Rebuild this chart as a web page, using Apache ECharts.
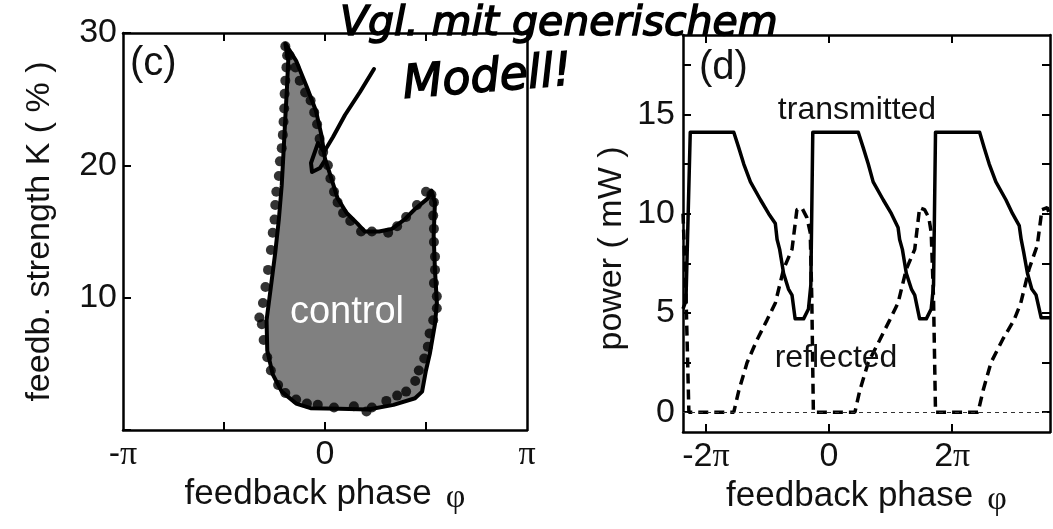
<!DOCTYPE html>
<html>
<head>
<meta charset="utf-8">
<script src="https://cdn.jsdelivr.net/npm/echarts@6/dist/echarts.min.js"></script>
<style>
  html, body { margin: 0; padding: 0; background: #fff; }
  #chart { width: 1053px; height: 529px; }
</style>
</head>
<body>
<div id="chart"></div>
<script>
const PI = Math.PI;

// (c) boundary of the control region: feedback phase (rad) vs feedback strength K (%)
const controlEdgePhase = [-0.617, -0.449, -0.281, -0.140, -0.056, 0.000, 0.084, 0.196, 0.337, 0.505, 0.617, 0.842, 1.040, 1.234, 1.400, 1.600, 1.655, 1.710, 1.690, 1.710, 1.740, 1.710, 1.630, 1.570, 1.510, 1.400, 1.066, 0.673, 0.224, -0.224, -0.449, -0.673, -0.813, -0.898, -0.909, -0.842, -0.774, -0.718, -0.673, -0.645, -0.617, -0.589, -0.572];
const controlEdgeK = [29.2, 27.9, 25.9, 24.1, 22.3, 20.5, 19.25, 17.5, 16.4, 15.6, 15.0, 15.0, 15.2, 15.9, 16.7, 17.5, 18.1, 17.2, 14.7, 12.1, 9.6, 8.0, 5.75, 4.5, 2.9, 2.4, 1.9, 1.55, 1.6, 1.65, 2.0, 2.9, 4.2, 6.0, 8.3, 10.8, 13.4, 15.9, 18.5, 21.0, 23.6, 26.1, 27.9];

// (c) measured points on the boundary
const controlDotPhase = [-0.617, -0.550, -0.460, -0.393, -0.309, -0.224, -0.168, -0.123, -0.084, -0.028, 0.045, 0.084, 0.140, 0.196, 0.281, 0.393, 0.561, 0.729, 0.982, 1.122, 1.262, 1.430, 1.571, 1.655, 1.694, 1.683, 1.694, 1.694, 1.711, 1.711, 1.694, 1.739, 1.739, 1.683, 1.627, 1.599, 1.543, 1.459, 1.403, 1.262, 1.122, 0.954, 0.729, 0.645, 0.449, 0.140, -0.112, -0.281, -0.449, -0.617, -0.729, -0.842, -0.898, -0.954, -0.982, -1.021, -0.965, -0.926, -0.886, -0.842, -0.813, -0.785, -0.774, -0.757, -0.718, -0.701, -0.673, -0.656, -0.645, -0.634, -0.628, -0.617, -0.600, -0.589];
const controlDotK = [29.0, 28.3, 27.4, 26.4, 25.5, 24.9, 24.0, 23.1, 22.0, 21.0, 20.0, 19.0, 18.0, 17.2, 16.4, 15.8, 15.0, 15.0, 14.9, 15.4, 16.1, 17.0, 18.0, 17.8, 17.2, 16.2, 15.2, 14.2, 13.1, 12.1, 11.1, 10.1, 9.2, 8.3, 7.3, 6.3, 5.4, 4.5, 3.7, 2.9, 2.6, 2.2, 1.7, 1.4, 1.8, 1.7, 1.9, 2.0, 2.3, 2.8, 3.4, 4.5, 5.5, 6.8, 8.0, 8.5, 9.6, 10.8, 12.1, 13.6, 14.9, 15.9, 17.0, 18.0, 19.2, 20.3, 21.3, 22.3, 23.3, 24.3, 25.4, 26.4, 27.4, 28.3];

// (d) transmitted power (mW) vs feedback phase (rad)
const transPhase = [-7.45, -7.30, -7.08, -4.86, -4.60, -4.35, -4.01, -3.50, -3.08, -2.74, -2.65, -2.52, -2.32, -2.07, -1.89, -1.73, -1.30, -1.05, -0.93, -0.83,
  1.49, 1.75, 2.00, 2.25, 2.76, 3.18, 3.52, 3.60, 3.74, 3.94, 4.20, 4.37, 4.62, 4.96, 5.21, 5.33, 5.43,
  7.68, 7.92, 8.17, 8.51, 9.02, 9.36, 9.70, 9.80, 9.92, 10.12, 10.34, 10.56, 10.82, 11.27];
const transPower = [5.2, 5.6, 14.1, 14.1, 13.3, 12.5, 11.6, 10.7, 10.0, 9.5, 8.7, 8.2, 7.0, 6.2, 5.9, 4.7, 4.7, 5.2, 6.4, 14.1,
  14.1, 13.3, 12.5, 11.6, 10.7, 10.0, 9.3, 8.7, 8.2, 7.0, 6.2, 5.9, 4.7, 4.7, 5.2, 6.4, 14.1,
  14.1, 13.3, 12.5, 11.6, 10.7, 10.0, 9.4, 8.7, 8.1, 7.0, 6.2, 5.9, 4.75, 4.75];

// (d) reflected power (mW) vs feedback phase (rad)
const reflPhase = [-7.45, -7.30, -7.15, -4.86, -4.60, -4.18, -3.67, -3.16, -2.74, -2.32, -1.89, -1.64, -1.39, -1.13, -0.96, -0.88, -0.80,
  1.32, 1.57, 2.00, 2.59, 3.10, 3.52, 3.94, 4.37, 4.62, 4.87, 5.09, 5.21, 5.33, 5.43,
  7.60, 7.86, 8.26, 8.85, 9.44, 9.78, 10.20, 10.62, 10.86, 11.13, 11.27];
const reflPower = [10.0, 6.0, 0, 0, 1.1, 2.5, 3.65, 4.65, 5.5, 7.2, 8.2, 10.2, 10.3, 9.8, 9.05, 5.7, 0,
  0, 1.1, 2.5, 3.65, 4.65, 5.5, 7.2, 8.2, 10.3, 10.2, 9.8, 9.05, 5.7, 0,
  0, 1.1, 2.5, 3.65, 4.65, 5.5, 7.2, 8.4, 10.2, 10.3, 9.9];

// axis ticks and tick labels
const phaseTicksC = [-PI / 2, 0, PI / 2];
const phaseLabelsC = [-PI, 0, PI];
const phaseTicksD = [-2 * PI, 0, 2 * PI];
const phaseLabelsD = [-2 * PI, 0, 2 * PI];
const kLabels = [0, 10, 20, 30];
const powerTicks = [0, 2.5, 5, 7.5, 10, 12.5, 15, 17.5];
const powerLabels = [0, 5, 10, 15];

const zip = (xs, ys) => xs.map((x, i) => [x, ys[i]]);

const SANS = '"Liberation Sans", Arial, Helvetica, sans-serif';
const SERIF = '"Liberation Serif", "Times New Roman", serif';
const INK = '#111';
const TICK_FONT = 34;
const NAME_FONT = 34;

const piRich = {
  s: { fontFamily: SANS, fontSize: TICK_FONT, color: INK },
  p: { fontFamily: SERIF, fontSize: TICK_FONT, color: INK }
};
const nameRich = {
  n: { fontFamily: SANS, fontSize: 35, color: INK },
  g: { fontFamily: SERIF, fontSize: 34, color: INK, padding: [8, 0, 0, 14] }
};

function piLabel(v) {
  const k = Math.round(v / PI);
  if (k === 0) return '{s|0}';
  if (k === 1) return '{p|π}';
  if (k === -1) return '{s|-}{p|π}';
  return '{s|' + k + '}{p|π}';
}

const frame = { show: true, onZero: false, lineStyle: { color: '#000', width: 2.5 } };
const tickStyle = { color: '#000', width: 2 };

function phaseAxis(grid, min, max, ticks, labels, top) {
  return {
    type: 'value', gridIndex: grid, min: min, max: max, position: top ? 'top' : 'bottom',
    axisLine: frame,
    axisTick: { show: true, inside: true, length: 8, customValues: ticks, lineStyle: tickStyle },
    axisLabel: top ? { show: false } : {
      show: true, customValues: labels, formatter: piLabel, rich: piRich, margin: 8,
      showMinLabel: true, showMaxLabel: true, hideOverlap: false
    },
    splitLine: { show: false },
    name: top ? '' : '{n|feedback phase}{g|φ}',
    nameLocation: 'middle', nameGap: 40,
    nameTextStyle: { rich: nameRich }
  };
}

const chart = echarts.init(document.getElementById('chart'), null, { renderer: 'canvas' });

const option = {
  animation: false,
  backgroundColor: '#fff',
  grid: [
    { left: 123, top: 33, width: 404, height: 397, containLabel: false, outerBoundsMode: 'none' },
    { left: 683, top: 35, width: 367, height: 397, containLabel: false, outerBoundsMode: 'none' }
  ],
  xAxis: [
    phaseAxis(0, -PI, PI, phaseTicksC, phaseLabelsC, false),
    phaseAxis(0, -PI, PI, phaseTicksC, phaseLabelsC, true),
    phaseAxis(1, -7.45, 11.27, phaseTicksD, phaseLabelsD, false),
    phaseAxis(1, -7.45, 11.27, phaseTicksD, phaseLabelsD, true)
  ],
  yAxis: [
    {
      type: 'value', gridIndex: 0, min: 0, max: 30, position: 'left',
      axisLine: frame,
      axisTick: { show: true, inside: true, length: 8, customValues: kLabels, lineStyle: tickStyle },
      axisLabel: { customValues: kLabels, formatter: v => (v === 0 ? '' : String(v)), fontFamily: SANS, fontSize: TICK_FONT, color: INK, margin: 6, showMaxLabel: true },
      splitLine: { show: false },
      name: 'feedb. strength K ( % )', nameLocation: 'middle', nameGap: 66,
      nameTextStyle: { fontFamily: SANS, fontSize: NAME_FONT, color: INK }
    },
    {
      type: 'value', gridIndex: 0, min: 0, max: 30, position: 'right',
      axisLine: frame, axisTick: { show: false }, axisLabel: { show: false }, splitLine: { show: false }
    },
    {
      type: 'value', gridIndex: 1, min: -1, max: 19, position: 'left',
      axisLine: frame,
      axisTick: { show: true, inside: true, length: 8, customValues: powerTicks, lineStyle: tickStyle },
      axisLabel: { customValues: powerLabels, fontFamily: SANS, fontSize: TICK_FONT, color: INK, margin: 8 },
      splitLine: { show: false },
      name: 'power ( mW )', nameLocation: 'middle', nameGap: 54,
      nameTextStyle: { fontFamily: SANS, fontSize: NAME_FONT, color: INK, padding: [0, 30, 0, 0] }
    },
    {
      type: 'value', gridIndex: 1, min: -1, max: 19, position: 'right',
      axisLine: frame,
      axisTick: { show: true, inside: true, length: 8, customValues: powerTicks, lineStyle: tickStyle },
      axisLabel: { show: false }, splitLine: { show: false }
    }
  ],
  series: [
    {
      // shaded control region with its outline
      type: 'custom', name: 'control', xAxisIndex: 0, yAxisIndex: 0,
      data: [[0, 0]], silent: true, z: 2,
      renderItem: (params, api) => ({
        type: 'polygon',
        shape: { points: zip(controlEdgePhase, controlEdgeK).map(p => api.coord(p)) },
        style: { fill: '#808080', stroke: '#000', lineWidth: 4, lineJoin: 'round' }
      })
    },
    {
      type: 'scatter', name: 'measured', xAxisIndex: 0, yAxisIndex: 0,
      data: zip(controlDotPhase, controlDotK),
      symbol: 'circle', symbolSize: 10, itemStyle: { color: '#000' }, silent: true, z: 3
    },
    {
      type: 'line', name: 'transmitted', xAxisIndex: 2, yAxisIndex: 2,
      data: zip(transPhase, transPower), showSymbol: false, symbol: 'none',
      lineStyle: { color: '#000', width: 3.5, join: 'round' }, silent: true, z: 3
    },
    {
      type: 'line', name: 'reflected', xAxisIndex: 2, yAxisIndex: 2,
      data: zip(reflPhase, reflPower), showSymbol: false, symbol: 'none',
      lineStyle: { color: '#000', width: 3.5, type: [10, 6] }, silent: true, z: 3,
      markLine: {
        silent: true, symbol: ['none', 'none'], label: { show: false },
        lineStyle: { color: '#333', width: 1, type: [4, 4] },
        data: [{ yAxis: 0 }]
      }
    }
  ],
  graphic: [
    { type: 'text', x: 130, y: 44, z: 100, style: { text: '(c)', font: '40px ' + SANS, fill: INK } },
    { type: 'text', x: 699, y: 48, z: 100, style: { text: '(d)', font: '40px ' + SANS, fill: INK } },
    { type: 'text', x: 857, y: 110, z: 100, style: { text: 'transmitted', font: '32px ' + SANS, fill: INK, align: 'center', verticalAlign: 'middle' } },
    { type: 'text', x: 836, y: 358, z: 100, style: { text: 'reflected', font: '32px ' + SANS, fill: INK, align: 'center', verticalAlign: 'middle' } },
    { type: 'text', x: 347, y: 313, z: 100, style: { text: 'control', font: '38px ' + SANS, fill: '#fff', align: 'center', verticalAlign: 'middle' } },
    // handwritten note with pointer
    { type: 'text', x: 340, y: 24, z: 100, style: { text: 'Vgl. mit generischem', font: 'italic 41px "DejaVu Sans"', fill: '#000', stroke: '#000', lineWidth: 1.5, verticalAlign: 'middle' } },
    { type: 'text', x: 403, y: 86, rotation: 0.08, z: 100, style: { text: 'Modell!', font: 'italic 46px "DejaVu Sans"', fill: '#000', stroke: '#000', lineWidth: 1.5, verticalAlign: 'middle' } },
    {
      type: 'polyline', z: 100,
      shape: { points: [[374, 69], [360, 92], [345, 115], [333, 137], [324, 152], [318, 143], [311, 163], [312, 172], [320, 168], [325, 160]] },
      style: { stroke: '#000', lineWidth: 4, lineJoin: 'round', lineCap: 'round', fill: null }
    }
  ]
};

chart.setOption(option);
</script>
</body>
</html>
